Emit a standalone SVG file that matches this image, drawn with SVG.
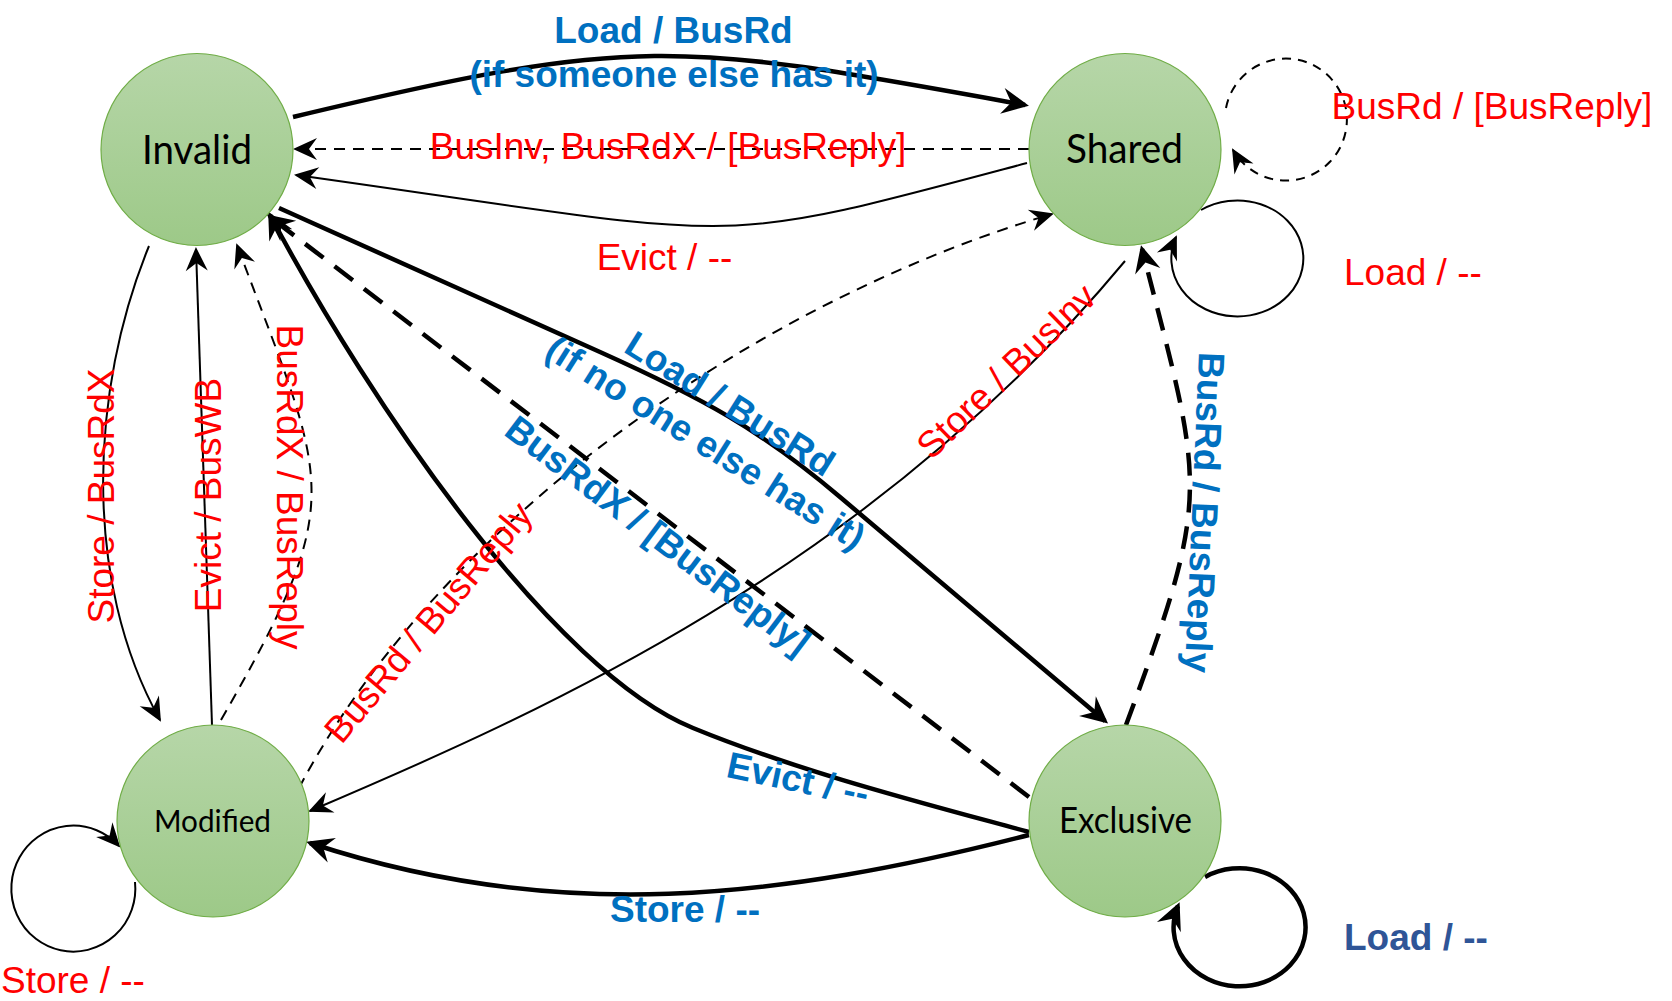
<svg xmlns="http://www.w3.org/2000/svg" width="1672" height="1001" viewBox="0 0 1672 1001">
  <defs>
    <style>
      .conn { fill: none; stroke: #000; }
      .thin { stroke-width: 2; }
      .thick { stroke-width: 4.5; }
      .dash { stroke-dasharray: 11 8; }
      .dashLoop { stroke-dasharray: 9 7; }
      .dashBold { stroke-dasharray: 23 14; }
      .node { fill: url(#nodeFill); stroke: #70ad47; stroke-width: 1.2; }
      .nodeLabel { font-family: Lato, "Open Sans", sans-serif; fill: #000; text-anchor: middle; }
      .red { font-family: "Liberation Sans", Arial, sans-serif; font-size: 37px; fill: #ff0000; }
      .blue { font-family: "Liberation Sans", Arial, sans-serif; font-size: 37px; font-weight: bold; fill: #0070c0; }
      .navy { font-family: "Liberation Sans", Arial, sans-serif; font-size: 37px; font-weight: bold; fill: #2f5597; }
      .mid { text-anchor: middle; }
    </style>
    <linearGradient id="nodeFill" x1="0" y1="0" x2="0" y2="1">
      <stop offset="0" stop-color="#b6d6a8"/>
      <stop offset="1" stop-color="#9dc988"/>
    </linearGradient>
    <marker id="arrow" viewBox="-26 -13 30 26" refX="0" refY="0" markerWidth="30" markerHeight="26" markerUnits="userSpaceOnUse" orient="auto">
      <path d="M2,0 L-22,-11 L-14,0 L-22,11 Z" fill="#000"/>
    </marker>
    <marker id="arrowBold" viewBox="-28 -15 34 30" refX="0" refY="0" markerWidth="34" markerHeight="30" markerUnits="userSpaceOnUse" orient="auto">
      <path d="M4,0 L-23,-13 L-14,0 L-23,13 Z" fill="#000"/>
    </marker>
  </defs>

  <rect width="1672" height="1001" fill="#fff"/>

  <!-- transitions -->
  <g id="connectors">
    <!-- Invalid to Shared: Load / BusRd, someone else has it -->
    <path class="conn thick" d="M293,117 C643,33 677,42 1025,105" marker-end="url(#arrowBold)"/>
    <!-- Shared to Invalid: BusInv, BusRdX -->
    <path class="conn thin dash" d="M1029,149 L295,149" marker-end="url(#arrow)"/>
    <!-- Shared to Invalid: Evict -->
    <path class="conn thin" d="M1027,163 C700,250 760,240 296,175" marker-end="url(#arrow)"/>
    <!-- Shared self loop: BusRd -->
    <path class="conn thin dashLoop" d="M1226,108 A61,61 0 1 1 1233,150" marker-end="url(#arrow)"/>
    <!-- Shared self loop: Load -->
    <path class="conn thin" d="M1201,210 A66,58 0 1 1 1176,237" marker-end="url(#arrow)"/>
    <!-- Invalid to Exclusive: Load / BusRd, no one else has it -->
    <path class="conn thick" d="M279,208 L600,352 C700,397 760,429 840,497 L1105,721" marker-end="url(#arrowBold)"/>
    <!-- Exclusive to Invalid: BusRdX -->
    <path class="conn thick dashBold" d="M1029,797 L270,217" marker-end="url(#arrowBold)"/>
    <!-- Exclusive to Invalid: Evict -->
    <path class="conn thick" d="M1029,832 C930,805 800,772 693,728 C554,671 373,409 270,215" marker-end="url(#arrowBold)"/>
    <!-- Exclusive to Modified: Store -->
    <path class="conn thick" d="M1029,835 C779,899 558,925 310,843" marker-end="url(#arrowBold)"/>
    <!-- Exclusive to Shared: BusRd / BusReply -->
    <path class="conn thick dashBold" d="M1126,725 C1213,490 1204,490 1142,249" marker-end="url(#arrowBold)"/>
    <!-- Exclusive self loop: Load -->
    <path class="conn thick" d="M1205,877 A66,59 0 1 1 1178,906" marker-end="url(#arrowBold)"/>
    <!-- Shared to Modified: Store / BusInv -->
    <path class="conn thin" d="M1125,261 C869,569 538,714 310,811" marker-end="url(#arrow)"/>
    <!-- Modified to Shared: BusRd / BusReply -->
    <path class="conn thin dash" d="M299,788 C440,520 760,300 1052,214" marker-end="url(#arrow)"/>
    <!-- Invalid to Modified: Store / BusRdX -->
    <path class="conn thin" d="M149,246 C90,390 82,580 160,720" marker-end="url(#arrow)"/>
    <!-- Modified to Invalid: Evict / BusWB -->
    <path class="conn thin" d="M212,725 L196,249" marker-end="url(#arrow)"/>
    <!-- Modified to Invalid: BusRdX / BusReply -->
    <path class="conn thin dash" d="M221,720 C351,494 327,487 237,245" marker-end="url(#arrow)"/>
    <!-- Modified self loop: Store -->
    <path class="conn thin" d="M135,882 A62,63 0 1 1 119,846" marker-end="url(#arrow)"/>
  </g>

  <!-- states -->
  <g id="node-invalid">
    <circle class="node" cx="197" cy="149.5" r="96"/>
    <text class="nodeLabel" x="197" y="164" font-size="40" textLength="110" lengthAdjust="spacingAndGlyphs">Invalid</text>
  </g>
  <g id="node-shared">
    <circle class="node" cx="1125" cy="149.5" r="96"/>
    <text class="nodeLabel" x="1124.5" y="163" font-size="40" textLength="117" lengthAdjust="spacingAndGlyphs">Shared</text>
  </g>
  <g id="node-modified">
    <circle class="node" cx="213" cy="821" r="96"/>
    <text class="nodeLabel" x="212.5" y="832" font-size="31" textLength="117" lengthAdjust="spacingAndGlyphs">Modified</text>
  </g>
  <g id="node-exclusive">
    <circle class="node" cx="1125" cy="821" r="96"/>
    <text class="nodeLabel" x="1125.5" y="833" font-size="36" textLength="133" lengthAdjust="spacingAndGlyphs">Exclusive</text>
  </g>

  <!-- transition labels -->
  <g id="labels">
    <text class="blue mid" x="673.5" y="43">Load / BusRd</text>
    <text class="blue mid" x="674" y="87">(if someone else has it)</text>
    <text class="red mid" x="668" y="159">BusInv, BusRdX / [BusReply]</text>
    <text class="red mid" x="664.5" y="270">Evict / --</text>
    <text class="red mid" x="1492" y="119">BusRd / [BusReply]</text>
    <text class="red" x="1344" y="285">Load / --</text>
    <text class="navy" x="1344" y="950">Load / --</text>
    <text class="red" x="1" y="993" font-size="34">Store / --</text>
    <text class="blue mid" x="685" y="922">Store / --</text>
    <text class="red mid" transform="translate(114,496) rotate(-90)">Store / BusRdX</text>
    <text class="red mid" transform="translate(221,495) rotate(-90)">Evict / BusWB</text>
    <text class="red mid" transform="translate(277,487) rotate(90)">BusRdX / BusReply</text>
    <text class="red mid" transform="translate(428,622) rotate(-50)" y="13">BusRd / BusReply</text>
    <text class="red mid" transform="translate(1006,371) rotate(-44)" y="13">Store / BusInv</text>
    <g transform="translate(718,423) rotate(32)">
      <text class="blue mid" y="-10">Load / BusRd</text>
      <text class="blue mid" y="36">(if no one else has it)</text>
    </g>
    <text class="blue mid" transform="translate(658,535) rotate(37)" y="13">BusRdX / [BusReply]</text>
    <text class="blue mid" transform="translate(798,779) rotate(12)" y="13">Evict / --</text>
    <text class="blue mid" transform="translate(1192,512) rotate(92.5)">BusRd / BusReply</text>
  </g>
</svg>
